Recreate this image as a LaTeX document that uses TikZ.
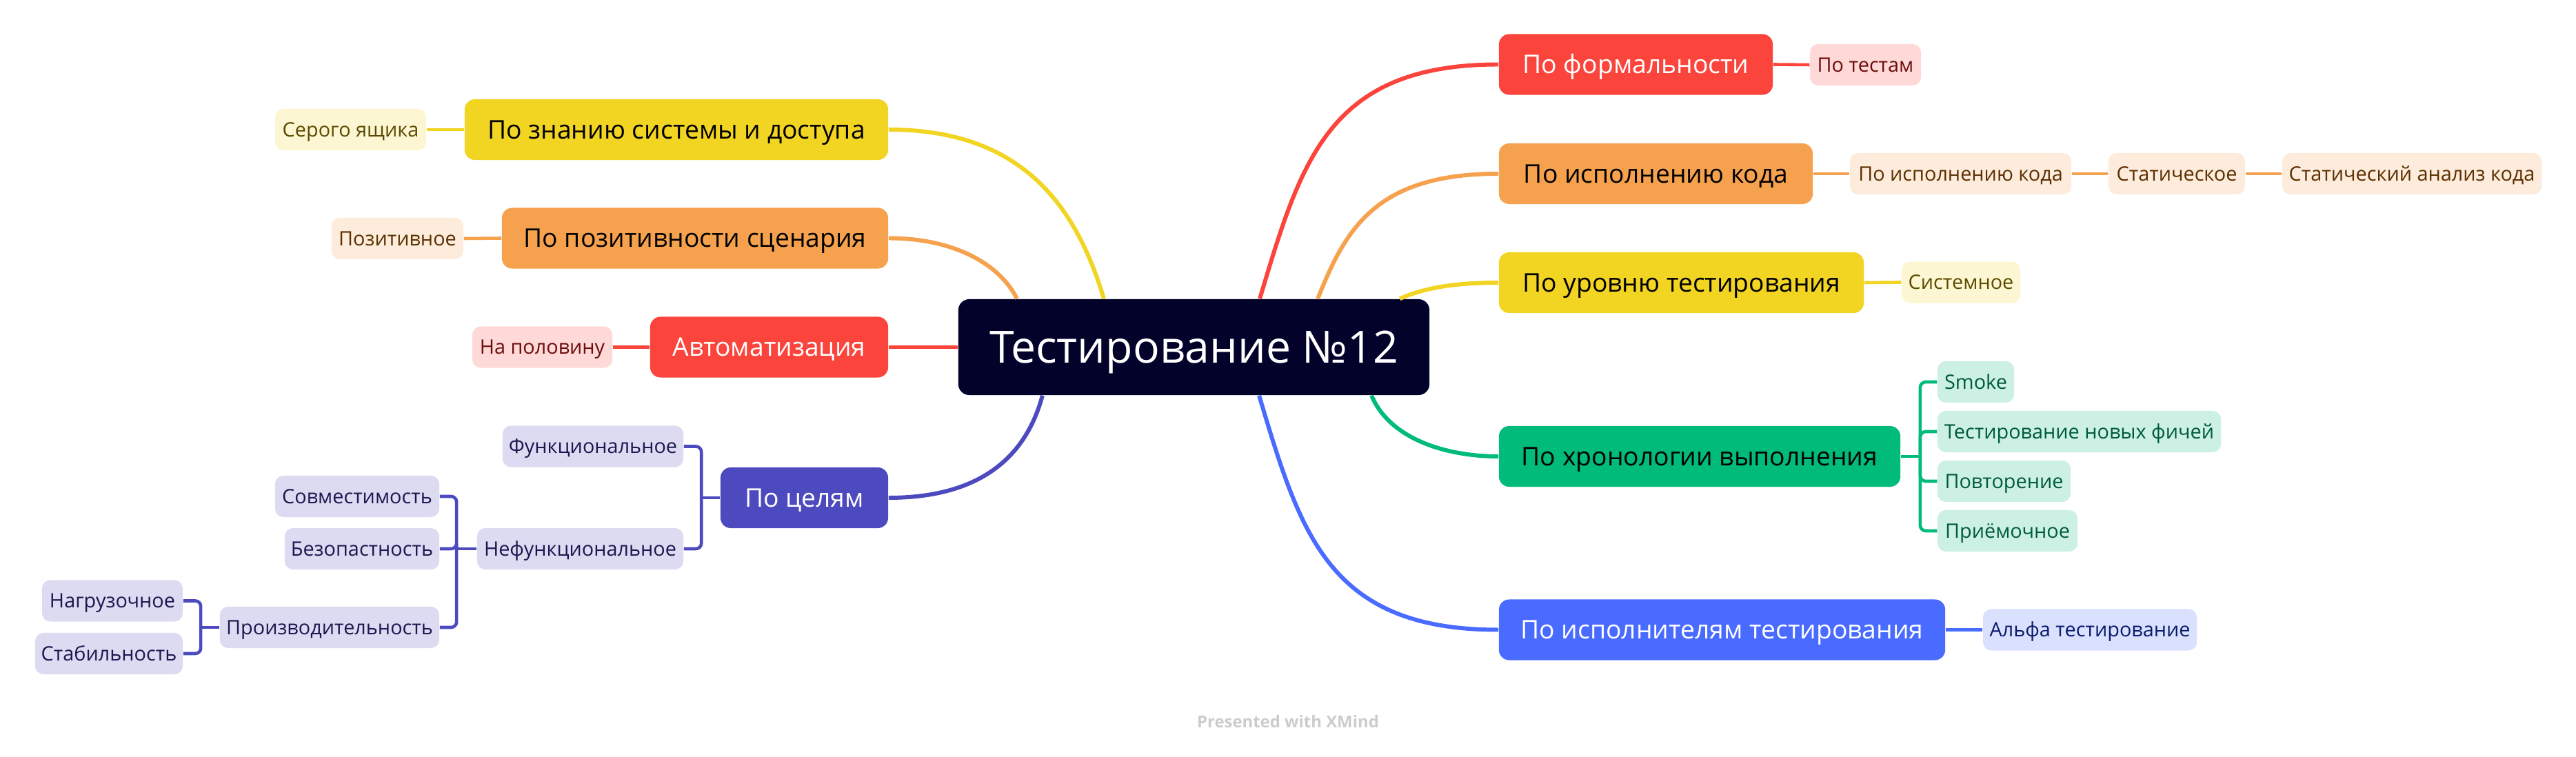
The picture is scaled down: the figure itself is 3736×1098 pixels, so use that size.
\documentclass[tikz,border=0pt]{standalone}
\usepackage{fontspec}
\setmainfont{Open Sans}

\definecolor{rootnavy}{HTML}{02022B}
\definecolor{xred}{HTML}{FA443C}
\definecolor{xorange}{HTML}{F6A14E}
\definecolor{xyellow}{HTML}{F2D422}
\definecolor{xgreen}{HTML}{00BB7A}
\definecolor{xblue}{HTML}{4A6BFF}
\definecolor{xpurple}{HTML}{4D4ABF}
\definecolor{redleaf}{HTML}{FFD9D8}
\definecolor{redink}{HTML}{6B0E0B}
\definecolor{orangeleaf}{HTML}{FDEBDC}
\definecolor{orangeink}{HTML}{5C3000}
\definecolor{yellowleaf}{HTML}{FDF6D3}
\definecolor{yellowink}{HTML}{5B4B00}
\definecolor{greenleaf}{HTML}{CCF1E4}
\definecolor{greenink}{HTML}{005A3C}
\definecolor{blueleaf}{HTML}{DAE1FF}
\definecolor{blueink}{HTML}{0B1B6B}
\definecolor{purpleleaf}{HTML}{DCDBF2}
\definecolor{purpleink}{HTML}{1A184F}

\begin{document}
\begin{tikzpicture}
           [x=0.01cm,y=-0.01cm,
            rootbox/.style={fill=rootnavy,text=white,rounded corners=0.16cm,inner sep=0pt,
                            minimum width=6.83cm,minimum height=1.39cm,font=\fontsize{18.3}{22}\selectfont,
                            text height=13.1pt,text depth=0pt},
            topic/.style={rounded corners=0.15cm,inner sep=0pt,minimum height=0.88cm,
                          font=\fontsize{10.6}{13}\selectfont,text height=7.6pt,text depth=0pt},
            leaf/.style={rounded corners=0.12cm,inner sep=0pt,minimum height=0.6cm,
                         font=\fontsize{8.2}{10}\selectfont,text height=5.85pt,text depth=0pt},
            redtopic/.style={topic,fill=xred,text=white},
            orangetopic/.style={topic,fill=xorange,text=black},
            yellowtopic/.style={topic,fill=xyellow,text=black},
            greentopic/.style={topic,fill=xgreen,text=black},
            bluetopic/.style={topic,fill=xblue,text=white},
            purpletopic/.style={topic,fill=xpurple,text=white},
            redsub/.style={leaf,fill=redleaf,text=redink},
            orangesub/.style={leaf,fill=orangeleaf,text=orangeink},
            yellowsub/.style={leaf,fill=yellowleaf,text=yellowink},
            greensub/.style={leaf,fill=greenleaf,text=greenink},
            bluesub/.style={leaf,fill=blueleaf,text=blueink},
            purplesub/.style={leaf,fill=purpleleaf,text=purpleink},
            branch/.style={line width=1.7pt},
            twig/.style={line width=1.3pt}]
           \useasboundingbox (0,0) rectangle (3736,1098);

           \node[rootbox] (root) at (1731.5,503.5) {Тестирование №12};

           % left side
           \node[yellowtopic,minimum width=6.14cm] (know) at (981,188) {По знанию системы и доступа};
           \node[orangetopic,minimum width=5.6cm] (pos) at (1008,345.5) {По позитивности сценария};
           \node[redtopic,minimum width=3.45cm] (auto) at (1115.5,503.5) {Автоматизация};
           \node[purpletopic,minimum width=2.43cm] (goals) at (1166.5,722) {По целям};

           \node[yellowsub,minimum width=2.19cm] (grey) at (508.5,188) {Серого ящика};
           \node[orangesub,minimum width=1.91cm] (positive) at (576.5,346) {Позитивное};
           \node[redsub,minimum width=2.03cm] (half) at (786.5,503.5) {На половину};
           \node[purplesub,minimum width=2.62cm] (func) at (860,647.5) {Функциональное};
           \node[purplesub,minimum width=2.99cm] (nonfunc) at (841.5,796) {Нефункциональное};
           \node[purplesub,minimum width=2.38cm] (compat) at (518,720) {Совместимость};
           \node[purplesub,minimum width=2.24cm] (secur) at (525,796) {Безопастность};
           \node[purplesub,minimum width=3.18cm] (perf) at (478,910) {Производительность};
           \node[purplesub,minimum width=2.04cm] (load) at (163,871.5) {Нагрузочное};
           \node[purplesub,minimum width=2.14cm] (stab) at (158,948) {Стабильность};

           % right side
           \node[redtopic,minimum width=3.97cm] (formal) at (2372.5,93.5) {По формальности};
           \node[orangetopic,minimum width=4.55cm] (exec) at (2401.5,252) {По исполнению кода};
           \node[yellowtopic,minimum width=5.29cm] (level) at (2438.5,410) {По уровню тестирования};
           \node[greentopic,minimum width=5.82cm] (chrono) at (2465,662) {По хронологии выполнения};
           \node[bluetopic,minimum width=6.47cm] (actors) at (2497.5,913.5) {По исполнителям тестирования};

           \node[redsub,minimum width=1.61cm] (bytests) at (2705.5,94) {По тестам};
           \node[orangesub,minimum width=3.21cm] (execsub) at (2843.5,252) {По исполнению кода};
           \node[orangesub,minimum width=1.98cm] (static) at (3157,252) {Статическое};
           \node[orangesub,minimum width=3.76cm] (analysis) at (3498,252) {Статический анализ кода};
           \node[yellowsub,minimum width=1.72cm] (system) at (2844,409.5) {Системное};
           \node[greensub,minimum width=1.11cm] (smoke) at (2865.5,554) {Smoke};
           \node[greensub,minimum width=4.11cm] (newfeat) at (3015.5,626) {Тестирование новых фичей};
           \node[greensub,minimum width=1.93cm] (again) at (2906.5,698) {Повторение};
           \node[greensub,minimum width=2.03cm] (accept) at (2911.5,770) {Приёмочное};
           \node[bluesub,minimum width=3.1cm] (alpha) at (3031,913.5) {Альфа тестирование};

           \node[font=\fontsize{6.8}{8}\selectfont\bfseries,text=black!20] (mark) at (1868,1047) {Presented with XMind};

           % branches from the root
           \draw[branch,xyellow] ([xshift=-1.305cm]root.north) .. controls +(-42,-140) and +(189,0) .. (know.east);
           \draw[branch,xorange] ([xshift=-2.565cm]root.north) .. controls +(-23,-47) and +(99,0) .. (pos.east);
           \draw[branch,xred] (root.west) -- (auto.east);
           \draw[branch,xpurple] ([xshift=-2.195cm]root.south) .. controls +(-27,100) and +(120,0) .. (goals.east);
           \draw[branch,xred] ([xshift=0.955cm]root.north) .. controls +(60,-200) and +(-247,0) .. (formal.west);
           \draw[branch,xorange] ([xshift=1.795cm]root.north) .. controls +(40,-100) and +(-179,0) .. (exec.west);
           \draw[branch,xyellow] ([xshift=2.985cm]root.north) .. controls +(40,-18) and +(-53,0) .. (level.west);
           \draw[branch,xgreen] ([xshift=2.575cm]root.south) .. controls +(26,62) and +(-78,0) .. (chrono.west);
           \draw[branch,xblue] ([xshift=0.945cm]root.south) .. controls +(60,200) and +(-247,0) .. (actors.west);

           % straight twigs
           \draw[twig,xyellow] (know.west) -- (grey.east);
           \draw[twig,xorange] (pos.west) -- (positive.east);
           \draw[twig,xred] (auto.west) -- (half.east);
           \draw[twig,xred] (formal.east) -- (bytests.west);
           \draw[twig,xorange] (exec.east) -- (execsub.west);
           \draw[twig,xorange] (execsub.east) -- (static.west);
           \draw[twig,xorange] (static.east) -- (analysis.west);
           \draw[twig,xyellow] (level.east) -- (system.west);
           \draw[twig,xblue] (actors.east) -- (alpha.west);

           % brackets
           \coordinate (goalsfork) at ([xshift=-0.27cm]goals.west);
           \coordinate (nonfuncfork) at ([xshift=-0.29cm]nonfunc.west);
           \coordinate (perffork) at ([xshift=-0.27cm]perf.west);
           \coordinate (chronofork) at ([xshift=0.28cm]chrono.east);

           \draw[twig,xpurple] (goals.west) -- (goalsfork);
           \foreach \c in {func,nonfunc}
             \draw[twig,xpurple,rounded corners=0.08cm] (goalsfork) |- (\c.east);
           \draw[twig,xpurple] (nonfunc.west) -- (nonfuncfork);
           \foreach \c in {compat,secur,perf}
             \draw[twig,xpurple,rounded corners=0.08cm] (nonfuncfork) |- (\c.east);
           \draw[twig,xpurple] (perf.west) -- (perffork);
           \foreach \c in {load,stab}
             \draw[twig,xpurple,rounded corners=0.08cm] (perffork) |- (\c.east);
           \draw[twig,xgreen] (chrono.east) -- (chronofork);
           \foreach \c in {smoke,newfeat,again,accept}
             \draw[twig,xgreen,rounded corners=0.08cm] (chronofork) |- (\c.west);
         \end{tikzpicture}
\end{document}
